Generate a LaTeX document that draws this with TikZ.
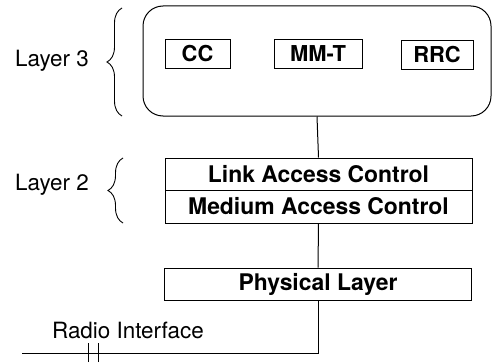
\documentclass[tikz,border=0pt]{standalone}
\usepackage{fontspec}
\setmainfont{TeX Gyre Heros}
\usetikzlibrary{positioning,calc,decorations.pathreplacing}

\begin{document}
\begin{tikzpicture}[x=1bp,y=1bp,line width=1bp,
  lbl/.style={font=\fontsize{22.5}{26}\selectfont},
  protbox/.style={draw,font=\fontsize{22}{26}\selectfont\bfseries,inner sep=0pt,minimum height=29bp},
  laybox/.style={draw,font=\fontsize{23}{26}\selectfont\bfseries,inner sep=0pt,minimum width=307bp,minimum height=32bp},
  brc/.style={decorate,decoration={brace,amplitude=15bp},line width=0.9bp}]
  \useasboundingbox (0,0) rectangle (493,362);
  \node[draw,rounded corners=20bp,minimum width=348bp,minimum height=110bp] (l3) at (317,301) {};
  \node[protbox,minimum width=65bp] (cc) at (197.5,308) {CC};
  \node[protbox,minimum width=88bp] (mmt) at (318,308) {MM-T};
  \node[protbox,minimum width=72bp] (rrc) at (437,307) {RRC};
  \node[laybox] (lac) at (318.5,188) {Link Access Control};
  \node[laybox,minimum height=33bp] (mac) at (318.5,155.5) {Medium Access Control};
  \node[laybox] (phy) at (318,78) {Physical Layer};
  \node[lbl] (lay3) at (52,301) {Layer 3};
  \node[lbl] (lay2) at (52,177) {Layer 2};
  \node[lbl] (radio) at (128,32) {Radio Interface};
  \draw[brc] (122,246) -- (122,354);
  \draw[brc] (123,139) -- (123,204);
  \draw (l3.south) -- (lac.north);
  \draw (mac.south) -- (phy.north);
  \coordinate (bend) at (phy.south |- 0,9);
  \coordinate (rend) at (22,9);
  \draw (phy.south) -- (bend) -- (rend);
  \foreach \t in {88,98}{
    \draw (\t,0) -- (\t,19);
  }
\end{tikzpicture}
\end{document}
